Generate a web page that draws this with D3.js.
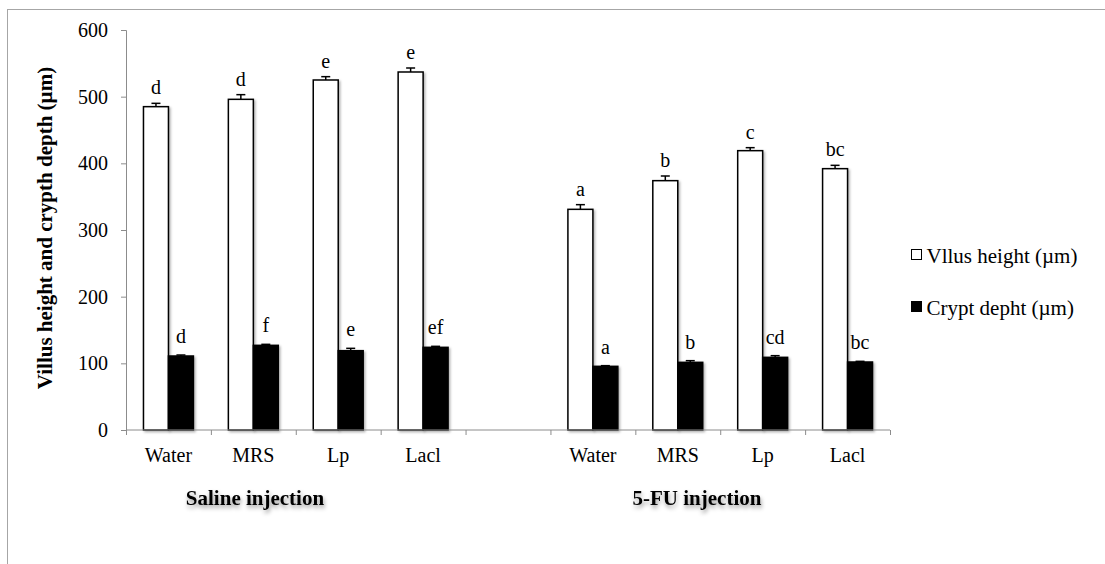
<!DOCTYPE html>
<html>
<head>
<meta charset="utf-8">
<script src="https://cdn.jsdelivr.net/npm/d3@7/dist/d3.min.js"></script>
<style>
  body { margin: 0; background: #fff; }
  text { font-family: "Liberation Serif", "Times New Roman", serif; fill: #000; }
</style>
</head>
<body>
<div id="chart"></div>
<script>
// data
const groups = ['Saline injection', '5-FU injection'];
const treatments = ['Water', 'MRS', 'Lp', 'Lacl'];
const seriesNames = ['Vllus height (\u00b5m)', 'Crypt depht (\u00b5m)'];

const villusSaline = [485, 496, 525, 537];
const villusSalineErr = [5, 7, 5, 6];
const cryptSaline = [111, 127, 119, 124];
const cryptSalineErr = [1.5, 1.5, 3.5, 1.5];

const villus5FU = [331, 374, 419, 392];
const villus5FUErr = [7, 7, 4.5, 5];
const crypt5FU = [95.5, 101.5, 109, 102];
const crypt5FUErr = [1, 2.5, 2.5, 1];

const villusLetters = ['d', 'd', 'e', 'e', 'a', 'b', 'c', 'bc'];
const cryptLetters = ['d', 'f', 'e', 'ef', 'a', 'b', 'cd', 'bc'];

const yTicks = [0, 100, 200, 300, 400, 500, 600];

// slots along x: 4 saline, one empty gap, 4 5-FU
const slots = treatments.map(t => 'S-' + t)
    .concat(['gap'])
    .concat(treatments.map(t => 'F-' + t));

const villusAll = villusSaline.concat(villus5FU);
const villusErrAll = villusSalineErr.concat(villus5FUErr);
const cryptAll = cryptSaline.concat(crypt5FU);
const cryptErrAll = cryptSalineErr.concat(crypt5FUErr);
const barSlots = slots.filter(s => s !== 'gap');

let rows = [];
barSlots.forEach((s, i) => {
    rows.push({slot: s, key: 'villus', v: villusAll[i], e: villusErrAll[i], lab: villusLetters[i]});
    rows.push({slot: s, key: 'crypt', v: cryptAll[i], e: cryptErrAll[i], lab: cryptLetters[i]});
});

const W = 1105, H = 564;
const svg = d3.select('#chart').append('svg')
    .attr('width', W)
    .attr('height', H);

const defs = svg.append('defs');
const shadow = defs.append('filter').attr('id', 'shadow')
    .attr('x', '-20%').attr('y', '-5%').attr('width', '150%').attr('height', '115%');
shadow.append('feDropShadow')
    .attr('dx', 1.5).attr('dy', 1.5).attr('stdDeviation', 1.2)
    .attr('flood-color', '#000').attr('flood-opacity', 0.3);
const tshadow = defs.append('filter').attr('id', 'tshadow')
    .attr('x', '-10%').attr('y', '-30%').attr('width', '120%').attr('height', '180%');
tshadow.append('feDropShadow')
    .attr('dx', 1).attr('dy', 3).attr('stdDeviation', 2)
    .attr('flood-color', '#000').attr('flood-opacity', 0.4);

// outer frame (runs off the right and bottom edge)
svg.append('rect')
    .attr('x', 7.5).attr('y', 9.5)
    .attr('width', W + 20).attr('height', H + 20)
    .attr('fill', 'none')
    .attr('stroke', '#a6a6a6')
    .attr('stroke-width', 1);

const x = d3.scaleBand()
    .domain(slots)
    .range([126, 890])
    .padding(0);

const xSub = d3.scaleBand()
    .domain(['villus', 'crypt'])
    .range([0, x.bandwidth()])
    .paddingInner(0)
    .paddingOuter(0.7);

const y = d3.scaleLinear()
    .domain([0, 600])
    .range([430, 30]);

// y axis
const yAxis = svg.append('g')
    .attr('transform', 'translate(126,0)')
    .call(d3.axisLeft(y).tickValues(yTicks).tickSize(5).tickPadding(13));
yAxis.select('.domain').attr('stroke', '#8c8c8c');
yAxis.selectAll('.tick line').attr('stroke', '#8c8c8c');
yAxis.selectAll('.tick text')
    .attr('font-family', '"Liberation Serif", serif')
    .attr('font-size', 20)
    .attr('fill', '#000');

// bars
const bars = svg.append('g');
bars.selectAll('rect')
    .data(rows)
    .enter()
    .append('rect')
    .attr('x', d => x(d.slot) + xSub(d.key))
    .attr('y', d => y(d.v))
    .attr('width', xSub.bandwidth())
    .attr('height', d => y(0) - y(d.v))
    .attr('fill', d => d.key === 'villus' ? '#fff' : '#000')
    .attr('stroke', '#000')
    .attr('stroke-width', 1.5)
    .attr('filter', 'url(#shadow)');

// error bars (upper only)
const err = svg.append('g').attr('stroke', '#000').attr('stroke-width', 1.5);
err.selectAll('line.v')
    .data(rows)
    .enter()
    .append('line')
    .attr('class', 'v')
    .attr('x1', d => x(d.slot) + xSub(d.key) + xSub.bandwidth() / 2)
    .attr('x2', d => x(d.slot) + xSub(d.key) + xSub.bandwidth() / 2)
    .attr('y1', d => y(d.v))
    .attr('y2', d => y(d.v + d.e));
err.selectAll('line.cap')
    .data(rows)
    .enter()
    .append('line')
    .attr('class', 'cap')
    .attr('x1', d => x(d.slot) + xSub(d.key) + xSub.bandwidth() / 2 - 4.5)
    .attr('x2', d => x(d.slot) + xSub(d.key) + xSub.bandwidth() / 2 + 4.5)
    .attr('y1', d => y(d.v + d.e))
    .attr('y2', d => y(d.v + d.e));

// significance letters
svg.append('g').selectAll('text')
    .data(rows)
    .enter()
    .append('text')
    .attr('x', d => x(d.slot) + xSub(d.key) + xSub.bandwidth() / 2)
    .attr('y', d => y(d.v + d.e) - (d.key === 'villus' ? 9 : 12))
    .attr('text-anchor', 'middle')
    .attr('font-size', 20)
    .text(d => d.lab);

// x axis: line plus ticks at slot boundaries
const xAxis = svg.append('g');
xAxis.append('line')
    .attr('x1', x.range()[0]).attr('x2', x.range()[1])
    .attr('y1', y(0)).attr('y2', y(0))
    .attr('stroke', '#8c8c8c');
const bounds = slots.map(s => x(s)).concat([x.range()[1]]);
xAxis.selectAll('line.tk')
    .data(bounds)
    .enter()
    .append('line')
    .attr('class', 'tk')
    .attr('x1', d => d + 0.5).attr('x2', d => d + 0.5)
    .attr('y1', y(0)).attr('y2', y(0) + 5)
    .attr('stroke', '#8c8c8c');
xAxis.selectAll('text')
    .data(barSlots)
    .enter()
    .append('text')
    .attr('x', d => x(d) + x.bandwidth() / 2)
    .attr('y', 462)
    .attr('text-anchor', 'middle')
    .attr('font-size', 20)
    .text(d => d.slice(2));

// group labels
const groupX = [255, 697];
svg.append('g').selectAll('text')
    .data(groups)
    .enter()
    .append('text')
    .attr('x', (d, i) => groupX[i])
    .attr('y', 505)
    .attr('text-anchor', 'middle')
    .attr('font-size', 21)
    .attr('font-weight', 'bold')
    .attr('filter', 'url(#tshadow)')
    .text(d => d);

// y title
svg.append('text')
    .attr('transform', 'translate(52,228) rotate(-90)')
    .attr('text-anchor', 'middle')
    .attr('font-size', 21)
    .attr('font-weight', 'bold')
    .text('Villus height and crypth depth (\u00b5m)');

// legend
const legend = svg.append('g').selectAll('g')
    .data(seriesNames)
    .enter()
    .append('g')
    .attr('transform', (d, i) => `translate(911.5,${249.5 + i * 52})`);
legend.append('rect')
    .attr('width', 10).attr('height', 10)
    .attr('fill', (d, i) => i === 0 ? '#fff' : '#000')
    .attr('stroke', '#000')
    .attr('stroke-width', 1);
legend.append('text')
    .attr('x', 15)
    .attr('y', 13.5)
    .attr('font-size', 21)
    .text(d => d);
</script>
</body>
</html>
